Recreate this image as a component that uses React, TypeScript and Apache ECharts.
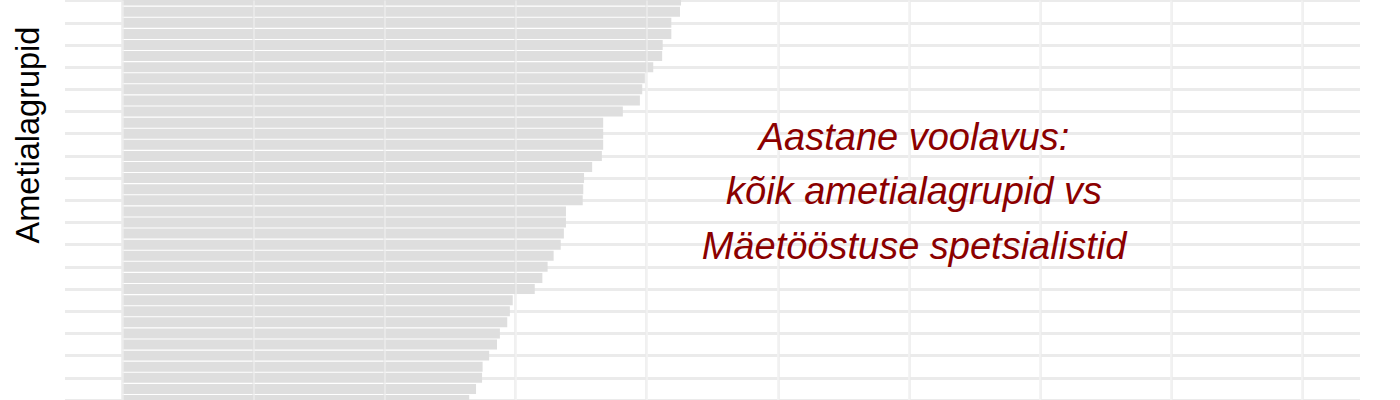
import { useEffect, useRef } from 'react';
import * as echarts from 'echarts';

// ametialagrupid (ülalt alla), nimed graafikul ei paista
const categories = [
  'Grupp 01', 'Grupp 02', 'Grupp 03', 'Grupp 04', 'Grupp 05', 'Grupp 06', 'Grupp 07', 'Grupp 08',
  'Grupp 09', 'Grupp 10', 'Grupp 11', 'Grupp 12', 'Grupp 13', 'Grupp 14', 'Grupp 15', 'Grupp 16',
  'Grupp 17', 'Grupp 18', 'Grupp 19', 'Grupp 20', 'Grupp 21', 'Grupp 22', 'Grupp 23', 'Grupp 24',
  'Grupp 25', 'Grupp 26', 'Grupp 27', 'Grupp 28', 'Grupp 29', 'Grupp 30', 'Grupp 31', 'Grupp 32',
  'Grupp 33', 'Grupp 34', 'Grupp 35', 'Grupp 36', 'Grupp 37',
];

// aastane voolavus, %
const voolavus = [
  21.31, 21.27, 20.94, 20.94, 20.61, 20.59, 20.25, 19.93, 19.83, 19.74,
  19.09, 18.34, 18.34, 18.34, 18.29, 17.92, 17.61, 17.58, 17.56, 16.92,
  16.92, 16.84, 16.72, 16.45, 16.22, 16.02, 15.73, 14.89, 14.78, 14.68,
  14.4, 14.29, 13.99, 13.74, 13.72, 13.49, 13.23,
];

// vertikaalsed abijooned
const gridTicks = [0, 5, 10, 15, 20, 25, 30, 35, 40, 45];

const annotation = ['Aastane voolavus:', 'kõik ametialagrupid vs', 'Mäetööstuse spetsialistid'];

const font = '"Liberation Sans", Arial, sans-serif';

export default function App() {
  const ref = useRef<HTMLDivElement>(null);

  useEffect(() => {
    if (!ref.current) return;
    const chart = echarts.init(ref.current, undefined, { renderer: 'svg' });

    const option: echarts.EChartsOption = {
      animation: false,
      backgroundColor: '#ffffff',
      grid: { left: 65, right: 40, top: 0.6, height: 402.1, containLabel: false },
      xAxis: {
        type: 'value',
        min: -2.19,
        max: 47.21,
        axisLine: { show: false },
        axisTick: { show: false },
        axisLabel: { show: false },
        splitLine: { show: false },
      },
      yAxis: {
        type: 'category',
        data: categories,
        inverse: true,
        boundaryGap: false,
        axisLine: { show: false },
        axisTick: { show: false },
        axisLabel: { show: false },
        splitLine: { show: true, lineStyle: { color: '#ebebeb', width: 3 } },
      },
      series: [
        {
          type: 'line',
          data: voolavus,
          silent: true,
          showSymbol: false,
          lineStyle: { opacity: 0 },
          z: 1,
          markLine: {
            silent: true,
            z: 1,
            symbol: 'none',
            label: { show: false },
            emphasis: { disabled: true },
            lineStyle: { color: '#ebebeb', width: 2.5, type: 'solid' },
            data: gridTicks.map((v) => ({ xAxis: v })),
          },
        },
        {
          type: 'bar',
          data: voolavus,
          barWidth: '90%',
          silent: true,
          z: 2,
          itemStyle: { color: '#dedede' },
          emphasis: { disabled: true },
          markLine: {
            silent: true,
            z: 3,
            symbol: 'none',
            label: { show: false },
            emphasis: { disabled: true },
            lineStyle: { color: 'rgba(255,255,255,0.4)', width: 1.5, type: 'solid' },
            data: gridTicks.map((v) => ({ xAxis: v })),
          },
        },
      ],
      graphic: [
        {
          type: 'text',
          x: 28,
          y: 135,
          rotation: Math.PI / 2,
          style: {
            text: 'Ametialagrupid',
            font: `32.5px ${font}`,
            fill: '#000000',
            align: 'center',
            verticalAlign: 'middle',
          },
        },
        {
          type: 'text',
          x: 914,
          y: 191,
          z: 10,
          style: {
            text: annotation.join('\n'),
            font: `italic 38px ${font}`,
            lineHeight: 54.5,
            fill: '#8b0000',
            align: 'center',
            verticalAlign: 'middle',
          },
        },
      ],
    };

    chart.setOption(option);
    return () => chart.dispose();
  }, []);

  return (
    <div
      ref={ref}
      style={{ position: 'fixed', left: 0, top: 0, width: '1400px', height: '400px' }}
    />
  );
}
